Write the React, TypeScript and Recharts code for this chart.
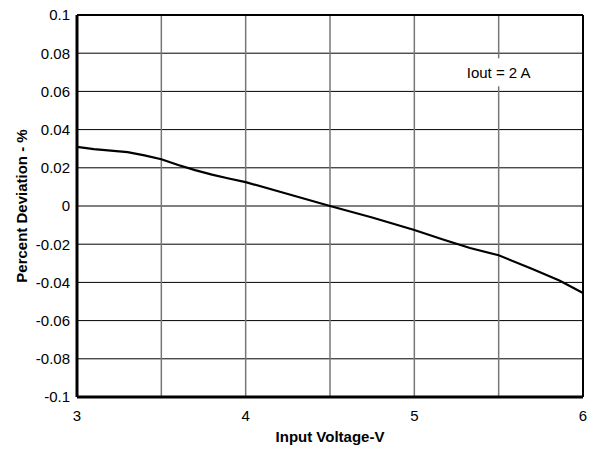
import React from 'react';
import { LineChart, Line, XAxis, YAxis, CartesianGrid, ReferenceLine, ReferenceDot } from 'recharts';

const voltage = [3.0, 3.1, 3.2, 3.3, 3.4, 3.5, 3.6, 3.7, 3.8, 3.9, 4.0, 4.25, 4.5, 4.75, 5.0, 5.17, 5.33, 5.5, 5.7, 5.86, 6.0];
const deviation = [0.031, 0.0298, 0.029, 0.0282, 0.0265, 0.0245, 0.0215, 0.0188, 0.0164, 0.0144, 0.0125, 0.0063, 0, -0.006, -0.0126, -0.0175, -0.022, -0.0258, -0.033, -0.039, -0.0455];
const xTicks = [3, 4, 5, 6];
const xGrid = [3.5, 4, 4.5, 5, 5.5];
const yTicks = [-0.1, -0.08, -0.06, -0.04, -0.02, 0, 0.02, 0.04, 0.06, 0.08, 0.1];
const annotationX = 5.5;
const annotationY = 0.07;
const annotationText = 'Iout = 2 A';
const xTitle = 'Input Voltage-V';
const yTitle = 'Percent Deviation - %';

const data = voltage.map((v, i) => ({ v, d: deviation[i] }));

const fmt = (n: number) => String(Number(n.toFixed(2)));

const FONT = '"Liberation Sans", Arial, sans-serif';

const AnnotationShape = (props: any) => {
  const { cx, cy } = props;
  return (
    <g>
      <rect x={cx - 38} y={cy - 14} width={76} height={28} fill="#fff" />
      <text x={cx} y={cy} textAnchor="middle" dominantBaseline="central" fontSize={15} fontFamily={FONT} fill="#000">
        {annotationText}
      </text>
    </g>
  );
};

export default function App() {
  return (
    <div style={{ fontFamily: FONT, width: 590, height: 453, boxSizing: 'border-box', padding: '0 0 0 8px' }}>
      <style>{`body{margin:0}`}</style>
      <LineChart width={582} height={445} data={data} margin={{ top: 15, right: 7, left: 0, bottom: 0 }}>
        <CartesianGrid horizontal={true} vertical={false} stroke="#000" strokeWidth={1} />
        <CartesianGrid horizontal={false} vertical={true} verticalValues={xGrid} stroke="#777" strokeWidth={1.5} />
        <XAxis
          dataKey="v"
          type="number"
          domain={[3, 6]}
          ticks={xTicks}
          tickLine={false}
          tickMargin={7}
          interval={0}
          axisLine={{ stroke: '#000', strokeWidth: 3 }}
          tick={{ fill: '#000', fontSize: 15, fontFamily: FONT }}
          height={48}
          label={{ value: xTitle, position: 'insideBottom', offset: 3, style: { fontWeight: 'bold', fontSize: 15, fill: '#000', fontFamily: FONT } }}
        />
        <YAxis
          type="number"
          domain={[-0.1, 0.1]}
          ticks={yTicks}
          interval={0}
          tickFormatter={fmt}
          tickLine={false}
          tickMargin={1}
          axisLine={{ stroke: '#000', strokeWidth: 3 }}
          tick={{ fill: '#000', fontSize: 15, fontFamily: FONT }}
          width={69}
          allowDataOverflow
          label={{ value: yTitle, angle: -90, position: 'insideLeft', offset: 14, style: { textAnchor: 'middle', fontWeight: 'bold', fontSize: 15, fill: '#000', fontFamily: FONT } }}
        />
        <ReferenceLine y={0.1} stroke="#000" strokeWidth={2} />
        <ReferenceLine x={6} stroke="#000" strokeWidth={2} />
        <Line dataKey="d" stroke="#000" strokeWidth={2.2} dot={false} isAnimationActive={false} type="linear" />
        <ReferenceDot x={annotationX} y={annotationY} r={0} shape={AnnotationShape} />
      </LineChart>
    </div>
  );
}
